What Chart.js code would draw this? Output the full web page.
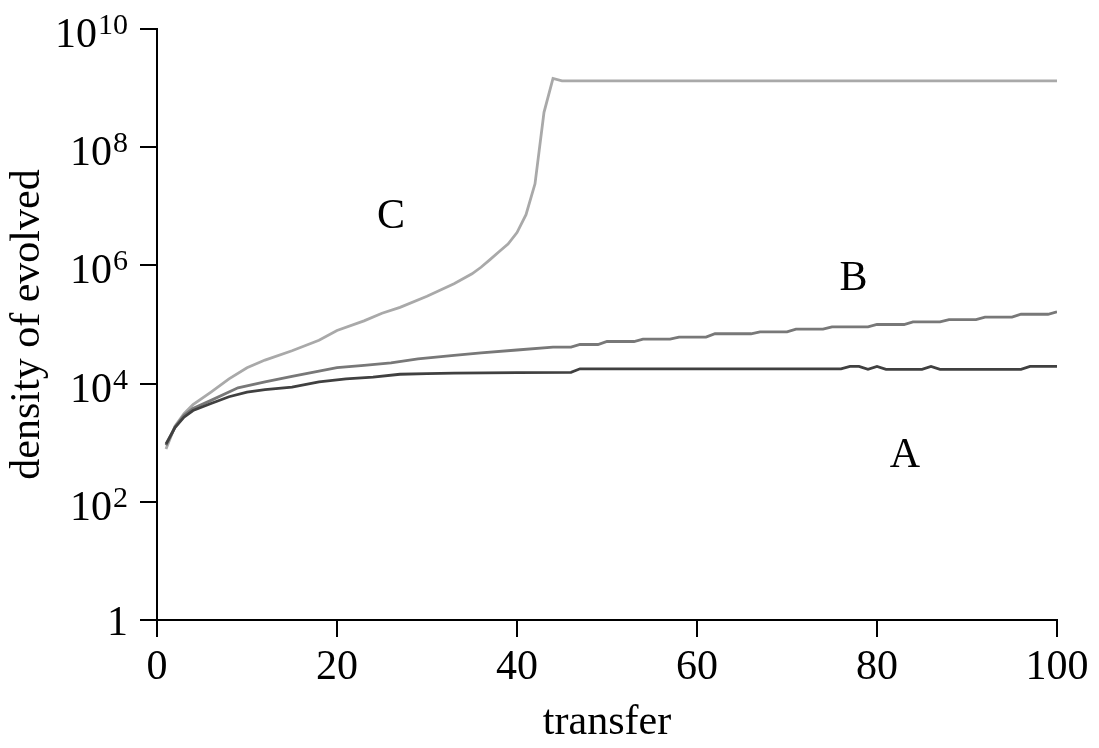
<!DOCTYPE html>
<html>
<head>
<meta charset="utf-8">
<script src="https://cdn.jsdelivr.net/npm/chart.js@4.4.1/dist/chart.umd.min.js"></script>
<style>
  html, body { margin: 0; background: #fff; }
  #wrap { width: 1099px; height: 748px; }
</style>
</head>
<body>
<div id="wrap"><canvas id="chart"></canvas></div>
<script>
'use strict';

// ── Data ─────────────────────────────────────────────────────────────
const transferA = [1, 2, 3, 4, 6, 8, 10, 12, 15, 18, 21, 24, 27, 30, 33, 40, 46, 47,
                   76, 77, 78, 79, 80, 81, 85, 86, 87, 96, 97, 100];
const densityA  = [950, 1.8e3, 2.7e3, 3.5e3, 4.6e3, 6.0e3, 7.2e3, 7.9e3, 8.7e3, 1.07e4,
                   1.2e4, 1.29e4, 1.44e4, 1.48e4, 1.5e4, 1.53e4, 1.55e4, 1.78e4,
                   1.78e4, 1.95e4, 1.95e4, 1.74e4, 1.95e4, 1.74e4, 1.74e4, 1.95e4,
                   1.74e4, 1.74e4, 1.95e4, 1.95e4];

const transferB = [1, 2, 3, 4, 6, 9, 12, 15, 18, 20, 23, 26, 29, 33, 36, 40, 44, 46, 47,
                   49, 50, 53, 54, 57, 58, 61, 62, 66, 67, 70, 71, 74, 75, 79, 80, 83,
                   84, 87, 88, 91, 92, 95, 96, 99, 100];
const densityB  = [900, 1.85e3, 2.9e3, 3.8e3, 5.2e3, 8.5e3, 1.07e4, 1.32e4, 1.62e4,
                   1.86e4, 2.04e4, 2.24e4, 2.63e4, 3.0e4, 3.3e4, 3.7e4, 4.14e4, 4.14e4,
                   4.59e4, 4.59e4, 5.16e4, 5.16e4, 5.65e4, 5.65e4, 6.11e4, 6.11e4,
                   6.97e4, 6.97e4, 7.53e4, 7.53e4, 8.34e4, 8.34e4, 9.12e4, 9.12e4,
                   1.0e5, 1.0e5, 1.11e5, 1.11e5, 1.21e5, 1.21e5, 1.33e5, 1.33e5,
                   1.49e5, 1.49e5, 1.64e5];

const transferC = [1, 2, 3, 4, 6, 8, 10, 12, 15, 18, 20, 23, 25, 27, 30, 33, 35, 36,
                   37, 38, 39, 40, 41, 42, 43, 44, 45, 100];
const densityC  = [780, 1.9e3, 3.1e3, 4.4e3, 7.2e3, 1.2e4, 1.85e4, 2.5e4, 3.6e4, 5.4e4,
                   7.9e4, 1.15e5, 1.55e5, 1.95e5, 3.0e5, 4.9e5, 7.2e5, 9.3e5, 1.25e6,
                   1.7e6, 2.3e6, 3.6e6, 7.2e6, 2.4e7, 3.9e8, 1.46e9, 1.33e9, 1.33e9];

const curveNames     = ['A', 'B', 'C'];
const curveColors    = ['#404040', '#787878', '#a9a9a9'];
const labelTransfer  = [83.1, 77.4, 26.0];
const labelDensity   = [590, 6.0e5, 6.6e6];

const xTicks     = [0, 20, 40, 60, 80, 100];
const yTicks     = [1, 1e2, 1e4, 1e6, 1e8, 1e10];
const yExponents = ['', '2', '4', '6', '8', '10'];

const FONT = "'Liberation Serif', 'Times New Roman', serif";

// ── Helpers ──────────────────────────────────────────────────────────
function toPoints(xs, ys) {
  return xs.map((x, i) => ({ x, y: ys[i] }));
}

// y tick labels with superscript exponents + curve letters
const figureText = {
  id: 'figureText',
  afterDraw(chart) {
    const { ctx, scales: { x, y } } = chart;
    ctx.save();
    ctx.fillStyle = '#000';
    ctx.textBaseline = 'alphabetic';
    ctx.textAlign = 'left';

    const right = y.right - 29;
    yTicks.forEach((v, i) => {
      const py = y.getPixelForValue(v);
      const exp = yExponents[i];
      if (!exp) {
        ctx.font = `42px ${FONT}`;
        const w = ctx.measureText('1').width;
        ctx.fillText('1', right - w, py + 15);
        return;
      }
      ctx.font = `30px ${FONT}`;
      const supW = ctx.measureText(exp).width;
      ctx.fillText(exp, right - supW, py + 5);
      ctx.font = `42px ${FONT}`;
      const baseW = ctx.measureText('10').width;
      ctx.fillText('10', right - supW - 1 - baseW, py + 18);
    });

    ctx.font = `42px ${FONT}`;
    ctx.textAlign = 'center';
    ctx.textBaseline = 'middle';
    curveNames.forEach((name, i) => {
      ctx.fillText(name, x.getPixelForValue(labelTransfer[i]), y.getPixelForValue(labelDensity[i]));
    });
    ctx.restore();
  },
};

// ── Chart ────────────────────────────────────────────────────────────
const series = [
  toPoints(transferA, densityA),
  toPoints(transferB, densityB),
  toPoints(transferC, densityC),
];

new Chart(document.getElementById('chart'), {
  type: 'line',
  data: {
    datasets: series.map((pts, i) => ({
      label: curveNames[i],
      data: pts,
      borderColor: curveColors[i],
      borderWidth: 2.8,
      pointRadius: 0,
      tension: 0,
      fill: false,
    })),
  },
  options: {
    responsive: true,
    maintainAspectRatio: false,
    animation: false,
    layout: { padding: { top: 29, right: 42, left: 0, bottom: 0 } },
    plugins: { legend: { display: false }, tooltip: { enabled: false } },
    scales: {
      x: {
        type: 'linear',
        min: 0,
        max: 100,
        afterBuildTicks: s => { s.ticks = xTicks.map(v => ({ value: v })); },
        afterFit: s => { s.height = 128; },
        border: { display: true, color: '#000', width: 2 },
        grid: { drawOnChartArea: false, drawTicks: true, tickLength: 17, color: '#000', lineWidth: 2 },
        ticks: { color: '#000', padding: 6, maxRotation: 0, font: { family: FONT, size: 42 } },
        title: {
          display: true,
          text: 'transfer',
          color: '#000',
          padding: { top: 0, bottom: 0 },
          font: { family: FONT, size: 42 },
        },
      },
      y: {
        type: 'logarithmic',
        min: 1,
        max: 1e10,
        afterBuildTicks: s => { s.ticks = yTicks.map(v => ({ value: v })); },
        afterFit: s => { s.width = 157; },
        border: { display: true, color: '#000', width: 2 },
        grid: { drawOnChartArea: false, drawTicks: true, tickLength: 17, color: '#000', lineWidth: 2 },
        ticks: { display: false },
        title: {
          display: true,
          text: 'density of evolved',
          color: '#000',
          padding: { top: 3, bottom: 0 },
          font: { family: FONT, size: 42 },
        },
      },
    },
  },
  plugins: [figureText],
});
</script>
</body>
</html>
